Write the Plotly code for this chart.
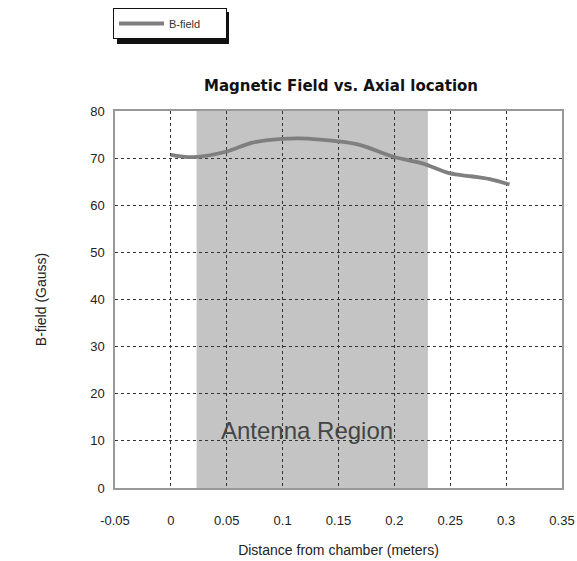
import plotly.graph_objects as go

distance_m = [0.0, 0.02, 0.05, 0.073, 0.1, 0.115, 0.148, 0.169, 0.199, 0.225, 0.249, 0.27, 0.288, 0.303]
b_field_gauss = [70.7, 70.2, 71.4, 73.3, 74.1, 74.2, 73.6, 72.8, 70.3, 68.9, 66.8, 66.1, 65.4, 64.4]
antenna_region = [0.023, 0.23]
x_ticks = [-0.05, 0, 0.05, 0.1, 0.15, 0.2, 0.25, 0.3, 0.35]
x_tick_labels = ["-0.05", "0", "0.05", "0.1", "0.15", "0.2", "0.25", "0.3", "0.35"]
y_ticks = [0, 10, 20, 30, 40, 50, 60, 70, 80]

font = "Liberation Sans, Arial, sans-serif"
W, H = 577, 561
L, R, T, B = 115, 15, 111, 73

fig = go.Figure()
fig.add_trace(go.Scatter(
    x=distance_m, y=b_field_gauss, mode="lines", name="B-field",
    line=dict(color="#7f7f7f", width=3.8, shape="spline"),
))

fig.add_shape(type="rect", xref="x", yref="paper",
              x0=antenna_region[0], x1=antenna_region[1], y0=0, y1=1,
              fillcolor="#c4c4c4", line=dict(width=0), layer="between")

fig.add_annotation(x=0.1217, y=12.3,
                   text="Antenna Region", showarrow=False,
                   font=dict(family=font, size=24, color="#444444"))

# legend shadow (pixel box converted to paper coordinates)
pw, ph = W - L - R, H - T - B
fig.add_shape(type="rect", xref="paper", yref="paper",
              x0=(117 - L) / pw, x1=(229 - L) / pw,
              y0=(H - B - 44) / ph, y1=(H - B - 12) / ph,
              fillcolor="#111111", line=dict(width=0), layer="above")

axis_common = dict(
    showgrid=True, gridcolor="#333333", griddash="dot", gridwidth=1,
    showline=True, linecolor="#999999", linewidth=1.5, mirror=True,
    zeroline=False, ticks="", automargin=False,
    tickfont=dict(family=font, size=13, color="#222222"),
)

fig.update_xaxes(range=[-0.05, 0.35], tickvals=x_ticks, ticktext=x_tick_labels,
                 ticklabelstandoff=20,
                 title=dict(text="Distance from chamber (meters)",
                            font=dict(family=font, size=14, color="#222222"), standoff=18),
                 **axis_common)
fig.update_yaxes(range=[0, 80], tickvals=y_ticks, ticklabelstandoff=6,
                 title=dict(text="B-field (Gauss)",
                            font=dict(family=font, size=14, color="#222222"), standoff=40),
                 **axis_common)

fig.update_layout(
    width=W, height=H,
    margin=dict(l=L, r=R, t=T, b=B),
    paper_bgcolor="white", plot_bgcolor="white",
    title=dict(text="<b>Magnetic Field vs. Axial location</b>", x=341 / W, xanchor="center",
               y=1 - 86 / H, yanchor="middle",
               font=dict(family="DejaVu Sans, sans-serif", size=15, color="#111111")),
    showlegend=True,
    legend=dict(xref="container", yref="container", orientation="h",
                x=113 / W, y=1 - 8 / H, xanchor="left", yanchor="top",
                bgcolor="white", bordercolor="#111111", borderwidth=1,
                font=dict(family=font, size=11, color="#333333"),
                itemwidth=45, entrywidth=52, entrywidthmode="pixels"),
)

fig.write_html("out.html")
